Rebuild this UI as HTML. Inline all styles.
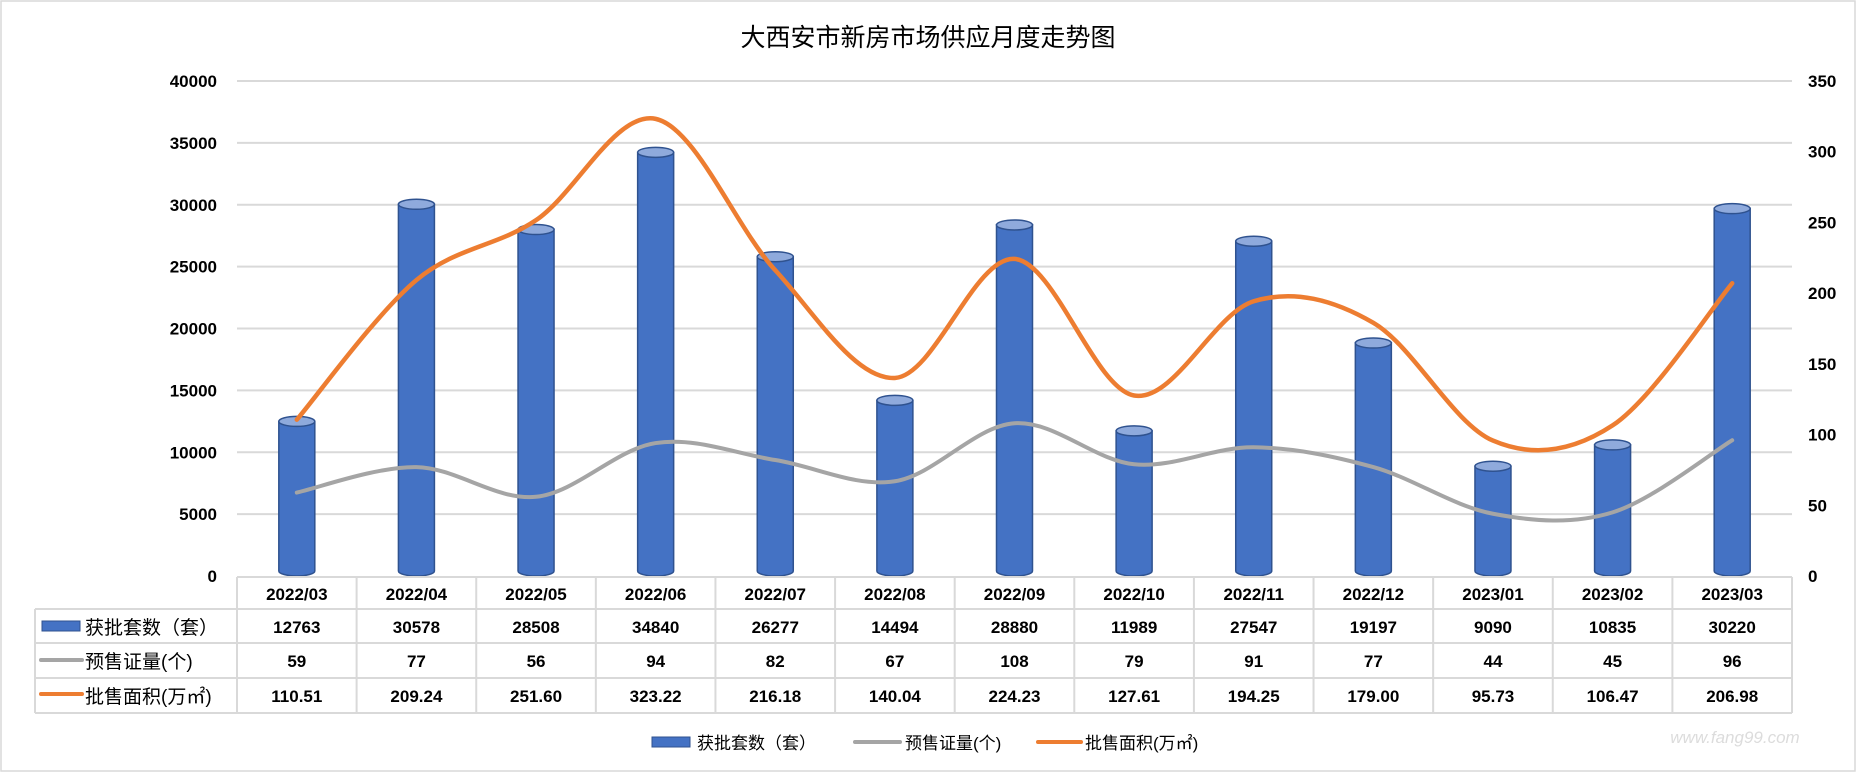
<!DOCTYPE html>
<html><head><meta charset="utf-8"><style>
body{margin:0;background:#fff}
svg text{font-family:"Liberation Sans","Noto Sans CJK SC",sans-serif}
</style></head><body>
<svg id="c" width="1857" height="773" xmlns="http://www.w3.org/2000/svg">
<rect x="1" y="1" width="1854" height="770" fill="#fff" stroke="#d9d9d9" stroke-width="1.5"/>
<text x="928" y="46" text-anchor="middle" font-size="25" fill="#000">大西安市新房市场供应月度走势图</text>
<g id="grid"></g>
<g id="bars"></g>
<g id="lines"></g>
<g id="table"></g>
<g>
<g><rect x="652" y="737" width="38" height="10" fill="#4472c4" stroke="#2f528f"/><text x="697" y="749" font-size="17">获批套数（套）</text></g>
<g><line x1="855" y1="742" x2="900" y2="742" stroke="#a5a5a5" stroke-width="4" stroke-linecap="round"/><text x="905" y="749" font-size="17">预售证量(个)</text></g>
<g><line x1="1038" y1="742" x2="1081" y2="742" stroke="#ed7d31" stroke-width="4" stroke-linecap="round"/><text x="1085" y="749" font-size="17">批售面积(万㎡)</text></g>
</g>
<text x="1735" y="743" text-anchor="middle" font-size="17" fill="#dcdcdc" font-style="italic">www.fang99.com</text>
</svg>
<script>
const categories=["2022/03","2022/04","2022/05","2022/06","2022/07","2022/08","2022/09","2022/10","2022/11","2022/12","2023/01","2023/02","2023/03"];
const units=[12763,30578,28508,34840,26277,14494,28880,11989,27547,19197,9090,10835,30220];
const permits=[59,77,56,94,82,67,108,79,91,77,44,45,96];
const area=[110.51,209.24,251.60,323.22,216.18,140.04,224.23,127.61,194.25,179.00,95.73,106.47,206.98];
const areaLabels=["110.51","209.24","251.60","323.22","216.18","140.04","224.23","127.61","194.25","179.00","95.73","106.47","206.98"];
const leftTicks=[0,5000,10000,15000,20000,25000,30000,35000,40000];
const rightTicks=[0,50,100,150,200,250,300,350];
const NS="http://www.w3.org/2000/svg";
const L=237,R=1792,T=81,B=576,cw=(R-L)/categories.length;
const yL=v=>B-v/40000*(B-T), yR=v=>B-v/350*(B-T), xC=i=>L+cw*(i+0.5);
const yBar=v=>B-(B-yL(v))*0.985+1;
function mk(tag,attrs,parent,txt){const e=document.createElementNS(NS,tag);for(const k in attrs)e.setAttribute(k,attrs[k]);if(txt!==undefined)e.textContent=txt;parent.appendChild(e);return e;}
const g=document.getElementById('grid');
leftTicks.forEach((v,i)=>{if(v>0){const l=mk('line',{x1:L,x2:R,y1:yL(v),y2:yL(v),stroke:'#d9d9d9','stroke-width':2},g);

}
const t=mk('text',{x:217,y:yL(v)+6,'text-anchor':'end','font-size':17,'font-weight':'bold'},g,v);

});
rightTicks.forEach(v=>{const t=mk('text',{x:1808,y:yR(v)+6,'font-size':17,'font-weight':'bold'},g,v);

});
const bg=document.getElementById('bars');
units.forEach((v,i)=>{const x=xC(i)-18,w=36,y=yBar(v),ry=5;const gg=mk('g',{},bg);


mk('path',{d:`M${x},${y} L${x},${B-ry} A18,${ry} 0 0 0 ${x+w},${B-ry} L${x+w},${y} Z`,fill:'#4472c4',stroke:'#2f528f','stroke-width':1.5},gg);
mk('ellipse',{cx:x+18,cy:y,rx:18,ry:ry,fill:'#8faadc',stroke:'#2f528f','stroke-width':1.5},gg);});
function spline(pts){let d=`M${pts[0][0]},${pts[0][1]}`;for(let i=0;i<pts.length-1;i++){const p0=pts[Math.max(i-1,0)],p1=pts[i],p2=pts[i+1],p3=pts[Math.min(i+2,pts.length-1)];const t=6;d+=` C${p1[0]+(p2[0]-p0[0])/t},${p1[1]+(p2[1]-p0[1])/t} ${p2[0]-(p3[0]-p1[0])/t},${p2[1]-(p3[1]-p1[1])/t} ${p2[0]},${p2[1]}`;}return d;}
const lg=document.getElementById('lines');
const lp=mk('path',{d:spline(permits.map((v,i)=>[xC(i),yR(v)])),fill:'none',stroke:'#a5a5a5','stroke-width':4,'stroke-linecap':'round'},lg);


const la=mk('path',{d:spline(area.map((v,i)=>[xC(i),yR(v)])),fill:'none',stroke:'#ed7d31','stroke-width':4.5,'stroke-linecap':'round'},lg);


const tb=document.getElementById('table');const st={stroke:'#d9d9d9','stroke-width':2};
mk('line',Object.assign({x1:L,x2:R,y1:577,y2:577},st),tb);
[609,643,678,713].forEach(y=>mk('line',Object.assign({x1:35,x2:R,y1:y,y2:y},st),tb));
mk('line',Object.assign({x1:35,x2:35,y1:609,y2:713},st),tb);
for(let k=0;k<=categories.length;k++)mk('line',Object.assign({x1:L+cw*k,x2:L+cw*k,y1:577,y2:713},st),tb);
const series=[units.map(String),permits.map(String),areaLabels];
categories.forEach((c,i)=>{const t=mk('text',{x:xC(i),y:600,'text-anchor':'middle','font-size':17,'font-weight':'bold'},tb,c);


series.forEach((s,r)=>{const tt=mk('text',{x:xC(i),y:[633,667,702][r],'text-anchor':'middle','font-size':17,'font-weight':'bold'},tb,s[i]);

});});
mk('rect',{x:42,y:621,width:38,height:10,fill:'#4472c4',stroke:'#2f528f'},tb);
mk('text',{x:85,y:634,'font-size':19},tb,'获批套数（套）');
mk('line',{x1:41,x2:82,y1:660,y2:660,stroke:'#a5a5a5','stroke-width':4,'stroke-linecap':'round'},tb);
mk('text',{x:85,y:668,'font-size':19},tb,'预售证量(个)');
mk('line',{x1:41,x2:82,y1:694,y2:694,stroke:'#ed7d31','stroke-width':4,'stroke-linecap':'round'},tb);
mk('text',{x:85,y:703,'font-size':19},tb,'批售面积(万㎡)');
</script>
</body></html>
